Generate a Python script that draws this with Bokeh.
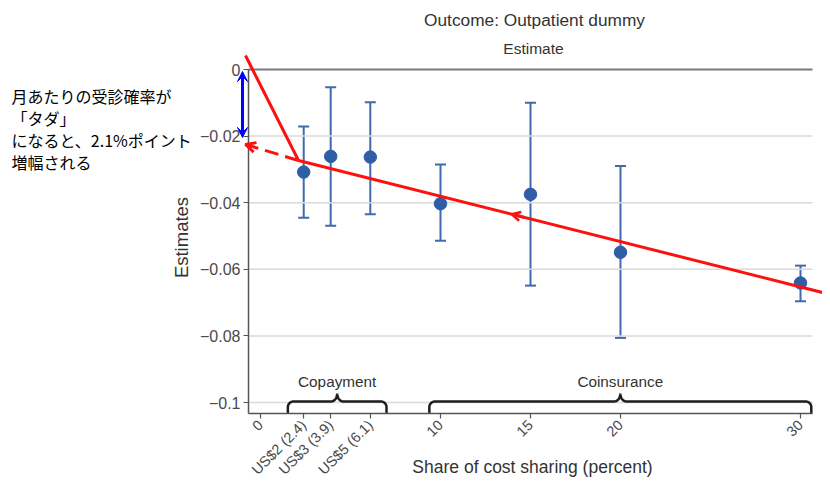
import numpy as np
from bokeh.plotting import figure
from bokeh.models import (Range1d, FixedTicker, Label, Arrow, OpenHead, VeeHead,
                          ColumnDataSource, Whisker, TeeHead, LinearAxis)
from bokeh.embed import file_html
from bokeh.resources import INLINE

# ---------------- data ----------------
share = [2.4, 3.9, 6.1, 10, 15, 20, 30]
estimate = [-0.0308, -0.0261, -0.0263, -0.0403, -0.0375, -0.0549, -0.0641]
ci_upper = [-0.0171, -0.0053, -0.0098, -0.0285, -0.0100, -0.0290, -0.0589]
ci_lower = [-0.0445, -0.0469, -0.0435, -0.0514, -0.0649, -0.0806, -0.0696]
x_ticks = [0, 2.4, 3.9, 6.1, 10, 15, 20, 30]
x_tick_labels = ["0", "US$2 (2.4)", "US$3 (3.9)", "US$5 (6.1)", "10", "15", "20", "30"]
y_ticks = [0, -0.02, -0.04, -0.06, -0.08, -0.1]
y_tick_labels = ["0", "\u22120.02", "\u22120.04", "\u22120.06", "\u22120.08", "\u22120.1"]
groups = ["Copayment", "Coinsurance"]
group_start = [1.52, 9.38]
group_end = [7.0, 30.6]
note_lines = ["月あたりの受診確率が", "「タダ」", "になると、2.1%ポイント", "増幅される"]


# helpers: picture pixel position -> data coordinates (layout/annotations only)
def X(px):
    return (px - 260) / 18.0


def Y(py):
    return -(py - 69) / 3330.0


W, H = 822, 478
FONT = "Liberation Sans"
DOT = "#2f5ea5"
BAR = "#4169ad"
RED = "#ff1010"

p = figure(width=W, height=H, output_backend="svg", toolbar_location=None, title=None,
           x_axis_type=None, y_axis_type=None,
           x_range=Range1d(X(0), X(W)), y_range=Range1d(Y(H), Y(0)),
           min_border_left=0, min_border_right=0, min_border_top=0, min_border_bottom=0)
p.outline_line_color = None
p.background_fill_color = "white"

# grid lines (horizontal) ending before the right edge
gy = y_ticks[1:]
p.segment(x0=[X(248)] * len(gy), y0=gy, x1=[X(812)] * len(gy), y1=gy,
          line_color="#dadada", line_width=1.5)
# zero line (top of panel)
p.segment(x0=[X(248)], y0=[0], x1=[X(812)], y1=[0], line_color="#7a7a7a", line_width=2)

# axes placed at fixed locations inside the canvas
ax = LinearAxis(fixed_location=Y(413))
ay = LinearAxis(fixed_location=X(248))
p.add_layout(ax, "below")
p.add_layout(ay, "left")
ax.ticker = FixedTicker(ticks=x_ticks)
ax.major_label_overrides = {t: l for t, l in zip(x_ticks, x_tick_labels)}
ax.major_label_orientation = np.pi / 4
ax.bounds = (X(248), X(812))
ay.ticker = FixedTicker(ticks=y_ticks)
ay.major_label_overrides = {t: l for t, l in zip(y_ticks, y_tick_labels)}
ay.bounds = (Y(413), 0)
for a in (ax, ay):
    a.axis_line_color = "#555555"
    a.axis_line_width = 1.5
    a.major_tick_line_color = "#555555"
    a.major_tick_line_width = 1.2
    a.major_tick_out = 5
    a.major_tick_in = 0
    a.minor_tick_line_color = None
    a.major_label_text_font = FONT
    a.major_label_text_color = "#4a4a4a"
ax.major_label_text_font_size = "14.5px"
ax.major_label_standoff = 4
ay.major_label_text_font_size = "16px"
ay.major_label_standoff = 3


# braces for groups
def brace(x0, x1, yb, yh, yp, rx, ry, tip):
    xm = (x0 + x1) / 2
    xs, ys = [x0], [yb]
    a = np.linspace(np.pi, np.pi / 2, 10)
    xs += list(x0 + rx + rx * np.cos(a)); ys += list(yh - ry + ry * np.sin(a))
    a = np.linspace(-np.pi / 2, 0, 10)
    xs += list(xm - tip + tip * np.cos(a)); ys += list(yp + (yp - yh) * np.sin(a))
    a = np.linspace(np.pi, 1.5 * np.pi, 10)
    xs += list(xm + tip + tip * np.cos(a)); ys += list(yp + (yp - yh) * np.sin(a))
    a = np.linspace(np.pi / 2, 0, 10)
    xs += list(x1 - rx + rx * np.cos(a)); ys += list(yh - ry + ry * np.sin(a))
    xs.append(x1); ys.append(yb)
    return xs, ys


bxs, bys = [], []
for g, s, e in zip(groups, group_start, group_end):
    bx, by = brace(s, e, Y(413), Y(401), Y(393), 0.3, 0.0017, 0.33)
    bxs.append(bx); bys.append(by)
    p.add_layout(Label(x=(s + e) / 2, y=Y(381), text=g, text_align="center",
                       text_baseline="middle", text_font=FONT, text_font_size="15.3px",
                       text_color="#333333"))
p.multi_line(xs=bxs, ys=bys, line_color="#1e1e1e", line_width=2.5)

# error bars and points
src = ColumnDataSource(dict(x=share, est=estimate, lo=ci_lower, hi=ci_upper))
p.add_layout(Whisker(source=src, base="x", upper="hi", lower="lo", dimension="height",
                     line_color=BAR, line_width=2,
                     upper_head=TeeHead(size=11, line_color=BAR, line_width=2),
                     lower_head=TeeHead(size=11, line_color=BAR, line_width=2)))
p.scatter(x="x", y="est", source=src, size=12.5, fill_color=DOT, line_color=DOT)


# red annotation lines
def yline(px):
    return 160 + (px - 298) * 0.2519


p.add_layout(Arrow(x_start=X(245), y_start=Y(55), x_end=X(298), y_end=Y(160),
                   start=None, end=None, line_color=RED, line_width=3))
p.add_layout(Arrow(x_start=X(298), y_start=Y(160), x_end=X(W), y_end=Y(yline(W)),
                   start=None, end=None, line_color=RED, line_width=3))
p.add_layout(Arrow(x_start=X(524), y_start=Y(yline(524)), x_end=X(511), y_end=Y(yline(511)),
                   start=None, end=OpenHead(size=9, line_color=RED, line_width=2.5),
                   line_color=RED, line_width=3))
p.add_layout(Arrow(x_start=X(298), y_start=Y(160), x_end=X(245), y_end=Y(144),
                   start=None, end=OpenHead(size=10, line_color=RED, line_width=3),
                   line_color=RED, line_width=3, line_dash="14 7"))
p.add_layout(Arrow(x_start=X(242), y_start=Y(137), x_end=X(242), y_end=Y(71),
                   start=VeeHead(size=10, fill_color="#0000ff", line_color="#0000ff"),
                   end=VeeHead(size=10, fill_color="#0000ff", line_color="#0000ff"),
                   line_color="#0000ff", line_width=3))

# titles and axis labels
p.add_layout(Label(x=X(534), y=Y(19), text="Outcome: Outpatient dummy", text_align="center",
                   text_baseline="middle", text_font=FONT, text_font_size="17.3px",
                   text_color="#333333"))
p.add_layout(Label(x=X(533), y=Y(48), text="Estimate", text_align="center",
                   text_baseline="middle", text_font=FONT, text_font_size="15.5px",
                   text_color="#333333"))
p.add_layout(Label(x=X(181), y=Y(237), text="Estimates", text_align="center",
                   text_baseline="middle", angle=np.pi / 2, text_font=FONT,
                   text_font_size="18.5px", text_color="#333333"))
p.add_layout(Label(x=X(532), y=Y(466), text="Share of cost sharing (percent)",
                   text_align="center", text_baseline="middle", text_font=FONT,
                   text_font_size="17.5px", text_color="#333333"))

# Japanese note
for i, line in enumerate(note_lines):
    p.add_layout(Label(x=X(11), y=Y(95 + 22 * i), text=line, text_align="left",
                       text_baseline="middle", text_font="Noto Sans CJK JP",
                       text_font_size="16px", text_color="#000000"))

open("out.html", "w").write(file_html(p, INLINE))
